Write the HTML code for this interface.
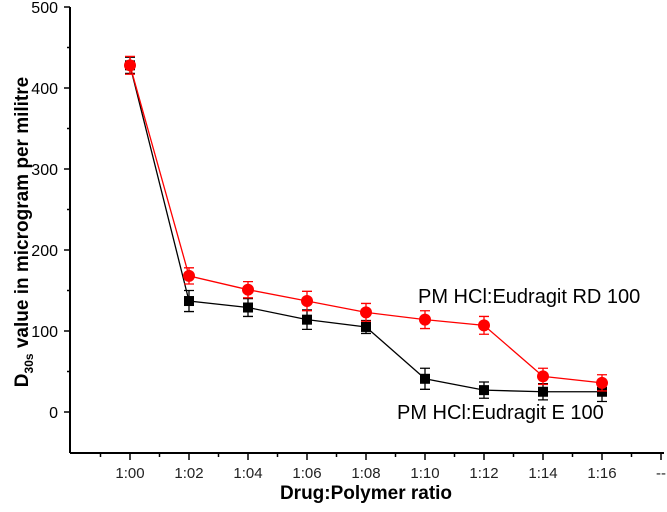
<!DOCTYPE html>
<html><head><meta charset="utf-8"><style>
body{margin:0;background:#fff;}
svg text{font-family:"Liberation Sans",Arial,sans-serif;}
</style></head><body>
<svg id="chart" width="667" height="507" viewBox="0 0 667 507" xmlns="http://www.w3.org/2000/svg">
<g id="axes"></g><g id="series"></g>
<text x="418" y="303" font-size="20" fill="#000">PM HCl:Eudragit RD 100</text>
<text x="397" y="419" font-size="20" fill="#000">PM HCl:Eudragit E 100</text>
<text x="366" y="499" font-size="19" font-weight="bold" text-anchor="middle">Drug:Polymer ratio</text>
<text transform="translate(28,232) rotate(-90)" font-size="19" font-weight="bold" text-anchor="middle">D<tspan font-size="12" dy="5">30s</tspan><tspan dy="-5"> value in microgram per militre</tspan></text>
</svg>
<script>
const categories=["1:00","1:02","1:04","1:06","1:08","1:10","1:12","1:14","1:16","--"];
const redValues=[428,168,151,137,123,114,107,44,36];
const redErr=[11,10,10,12,11,11,11,10,10];
const blackValues=[428,137,129,114,105,41,27,25,25];
const blackErr=[10,13,11,12,8,13,10,10,12];
const yTicks=[0,100,200,300,400,500];
const NS="http://www.w3.org/2000/svg";
const X0=70,X1=664,YB=453,YT=7;
function xs(i){return 130+59*i;}
function ys(v){return 412-v*0.81;}
function mk(tag,attrs,parent){const e=document.createElementNS(NS,tag);for(const k in attrs)e.setAttribute(k,attrs[k]);parent.appendChild(e);return e;}
const ax=document.getElementById('axes');
let l=mk('line',{x1:X0,y1:YT,x2:X0,y2:YB,stroke:'#000','stroke-width':2},ax);


l=mk('line',{x1:X0,y1:YB,x2:X1,y2:YB,stroke:'#000','stroke-width':2},ax);


yTicks.forEach(v=>{
  mk('line',{x1:X0-6,y1:ys(v),x2:X0,y2:ys(v),stroke:'#000','stroke-width':1.5},ax);
  mk('line',{x1:X0-3,y1:ys(v+50),x2:X0,y2:ys(v+50),stroke:'#000','stroke-width':1.5},ax);
  const t=mk('text',{x:X0-12,y:ys(v)+6,'font-size':16,'text-anchor':'end'},ax);
  t.textContent=v;
  
  
});
categories.forEach((c,i)=>{
  const x=xs(i);
  mk('line',{x1:x,y1:YB,x2:x,y2:YB+7,stroke:'#000','stroke-width':1.5},ax);
  mk('line',{x1:x-29.5,y1:YB,x2:x-29.5,y2:YB+4,stroke:'#000','stroke-width':1.5},ax);
  const t=mk('text',{x:x,y:YB+25,'font-size':15,'text-anchor':'middle',fill:'#222'},ax);
  t.textContent=c;
  
  
});
const sg=document.getElementById('series');
function draw(vals,errs,color,shape,name){
  const g=mk('g',{},sg);
  
  
  mk('polyline',{points:vals.map((v,i)=>xs(i)+','+ys(v)).join(' '),fill:'none',stroke:color,'stroke-width':1.3},g);
  vals.forEach((v,i)=>{
    const x=xs(i),e=errs[i];
    mk('path',{d:`M${x},${ys(v+e)}V${ys(v-e)}M${x-5},${ys(v+e)}H${x+5}M${x-5},${ys(v-e)}H${x+5}`,stroke:color,'stroke-width':1.3,fill:'none'},g);
    let m;
    if(shape==='circle')m=mk('circle',{cx:x,cy:ys(v),r:6,fill:color},g);
    else m=mk('rect',{x:x-5,y:ys(v)-5,width:10,height:10,fill:color},g);
    
    
  });
}
draw(blackValues,blackErr,'#000','square','series-eudragit-e-100');
draw(redValues,redErr,'#f00','circle','series-eudragit-rd-100');
</script>
</body></html>
